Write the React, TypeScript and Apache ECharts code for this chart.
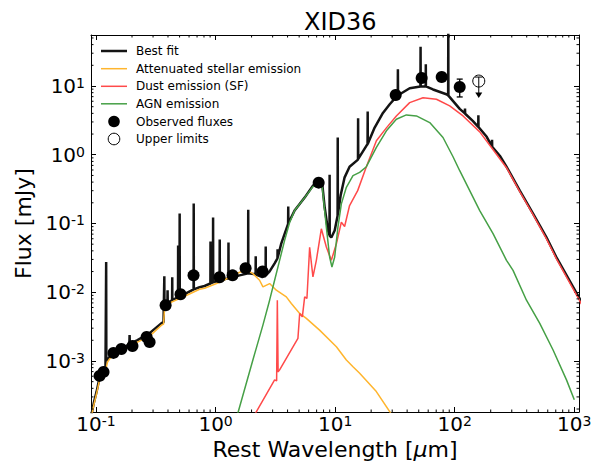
import { useEffect, useRef } from "react";
import * as echarts from "echarts";

const FONT = "DejaVu Sans";

// Wavelength [µm], flux [mJy] pairs for each model component.
const BEST_FIT: [number, number][] = [
  [0.0899, 1.4e-4], [0.0959, 2.46e-4], [0.101, 3.55e-4], [0.107, 5.68e-4], [0.1156, 7.17e-4],
  [0.12, 7.92e-4], [0.1212, 8.0e-4], [0.1216, 0.0275], [0.122, 1.03e-3], [0.1248, 1.034e-3],
  [0.1297, 1.143e-3], [0.14, 1.306e-3], [0.1633, 1.493e-3], [0.19, 1.76e-3], [0.1909, 2.38e-3],
  [0.1918, 1.78e-3], [0.2223, 2.015e-3], [0.2805, 2.544e-3], [0.3532, 3.556e-3], [0.367, 3.675e-3],
  [0.37, 3.7e-3], [0.3727, 0.01706], [0.3735, 6.26e-3], [0.3955, 6.9e-3], [0.3968, 0.01069],
  [0.3981, 6.95e-3], [0.433, 7.7e-3], [0.434, 0.01649], [0.435, 7.75e-3], [0.485, 8.4e-3],
  [0.4861, 0.048], [0.4872, 8.45e-3], [0.4995, 8.8e-3], [0.5007, 0.1396], [0.5019, 8.85e-3],
  [0.5508, 9.36e-3], [0.6548, 0.011], [0.6563, 0.195], [0.6578, 0.011], [0.7345, 0.01181],
  [0.809, 0.01233], [0.9048, 0.0134], [0.9069, 0.0548], [0.909, 0.0135], [0.951, 0.0139],
  [0.9531, 0.1222], [0.9552, 0.014], [1.08, 0.0149], [1.083, 0.0586], [1.086, 0.0149],
  [1.279, 0.0159], [1.282, 0.0531], [1.285, 0.016], [1.588, 0.0176], [1.871, 0.0188],
  [1.875, 0.159], [1.879, 0.0188], [2.161, 0.0182], [2.166, 0.0333], [2.171, 0.018],
  [2.459, 0.01667], [2.62, 0.0172], [2.626, 0.0464], [2.632, 0.0175], [2.831, 0.0201],
  [3.117, 0.0263], [3.292, 0.031], [3.3, 0.042], [3.308, 0.032], [3.546, 0.0513],
  [4.042, 0.099], [4.052, 0.1763], [4.062, 0.101], [4.58, 0.1543], [5.56, 0.238],
  [6.52, 0.3556], [7.28, 0.397], [7.81, 0.3674], [8.17, 0.1722], [8.71, 0.0792],
  [8.97, 0.068], [8.99, 0.513], [9.01, 0.066], [9.29, 0.0627], [9.91, 0.0792],
  [10.48, 0.13], [10.51, 1.782], [10.54, 0.135], [11.11, 0.2545], [12.0, 0.469],
  [13.2, 0.67], [15.52, 0.85], [15.56, 3.4], [15.6, 0.87], [18.24, 1.349],
  [18.66, 1.42], [18.71, 4.25], [18.76, 1.45], [21.4, 2.49], [25.1, 4.06],
  [28.6, 5.43], [33.39, 7.35], [33.48, 17.5], [33.57, 7.42], [34.7, 7.59],
  [42.0, 9.26], [51.66, 9.84], [51.81, 37.2], [51.96, 9.85], [57.15, 9.9],
  [57.3, 20.8], [57.45, 9.9], [65.8, 8.9], [85.1, 7.59], [88.1, 7.3],
  [88.36, 80], [88.6, 7.25], [110.1, 4.65], [121.5, 4.0], [121.9, 4.69],
  [122.3, 3.95], [141.5, 3.11], [157.3, 2.55], [157.7, 3.76], [158.1, 2.53],
  [185.2, 1.824], [204.6, 1.32], [205.2, 1.65], [205.8, 1.31], [238.2, 0.967],
  [271, 0.67], [350, 0.3006], [452, 0.1396], [585, 0.0627], [709, 0.0321],
  [1091, 8.47e-3], [1200, 6.3e-3],
];

const STELLAR: [number, number][] = [
  [0.0899, 1.31e-4], [0.0959, 2.3e-4], [0.101, 3.33e-4], [0.107, 5.31e-4], [0.1156, 6.7e-4],
  [0.12, 7.17e-4], [0.1248, 9.67e-4], [0.1297, 1.069e-3], [0.14, 1.222e-3], [0.1633, 1.396e-3],
  [0.2223, 1.884e-3], [0.2805, 2.3e-3], [0.3532, 3.32e-3], [0.367, 3.44e-3], [0.374, 5.67e-3],
  [0.396, 6.48e-3], [0.4285, 7.17e-3], [0.5508, 8.75e-3], [0.7345, 0.01105], [0.809, 0.01142],
  [1.08, 0.01395], [1.588, 0.0195], [1.853, 0.0208], [2.052, 0.01866], [2.333, 0.01492],
  [2.489, 0.01194], [2.831, 0.01336], [3.221, 0.01069], [3.905, 8.55e-3], [4.3, 6.85e-3],
  [5.05, 4.91e-3], [5.74, 4.16e-3], [7.41, 2.81e-3], [10.24, 1.61e-3], [12.41, 1.034e-3],
  [14.1, 8.26e-4], [16.03, 6.64e-4], [22.1, 3.59e-4], [29.1, 1.75e-4], [34.7, 1.18e-4],
];

const DUST_SF: [number, number][] = [
  [2.121, 1.65e-4], [3.117, 5.31e-4], [3.24, 5.13e-4], [3.284, 7.66e-3], [3.334, 6.93e-4],
  [3.432, 7.41e-4], [4.883, 2.13e-3], [5.05, 4.91e-3], [5.316, 4.38e-3], [5.56, 8.55e-3],
  [5.808, 8.11e-3], [6.119, 0.0449], [6.52, 0.01667], [6.963, 0.0291], [7.665, 0.0838],
  [8.44, 0.0454], [9.29, 0.0291], [10.24, 0.0508], [11.27, 0.1045], [12.0, 0.0905],
  [13.2, 0.1824], [15.43, 0.3006], [18.24, 0.67], [22.13, 1.596], [26.83, 2.46],
  [32.5, 3.67], [42.0, 5.73], [54.3, 6.76], [70.3, 6.41], [90.8, 5.13],
  [117.4, 3.67], [161.9, 2.153], [208, 1.202], [271, 0.648], [350, 0.291],
  [452, 0.135], [585, 0.0596], [709, 0.0306], [1091, 7.93e-3], [1635, 2.23e-3],
];

const AGN: [number, number][] = [
  [1.31, 6.07e-5], [1.537, 1.75e-4], [2.051, 1.034e-3], [2.488, 3.32e-3], [2.831, 7.66e-3],
  [3.117, 0.01492], [3.432, 0.0291], [3.779, 0.0568], [4.161, 0.1034], [4.58, 0.1543],
  [5.56, 0.238], [6.52, 0.3436], [7.28, 0.38], [7.81, 0.3327], [8.44, 0.0883],
  [8.99, 0.0325], [9.4, 0.0233], [9.91, 0.0325], [10.55, 0.0883], [11.27, 0.1929],
  [12.41, 0.336], [14.1, 0.4966], [16.03, 0.554], [18.24, 0.67], [22.13, 1.276],
  [26.83, 2.228], [32.5, 3.289], [39.4, 3.8], [47.8, 3.67], [61.8, 2.94],
  [79.8, 1.782], [96.8, 0.935], [110.1, 0.586], [137.4, 0.272], [161.9, 0.1543],
  [209.2, 0.071], [271, 0.0291], [307.5, 0.0208], [398.1, 7.66e-3], [514.3, 3.52e-3],
  [664.6, 1.443e-3], [860.6, 5.31e-4], [1000, 2.72e-4],
];

// Photometry
const OBS_WAVE = [
  0.107, 0.1156, 0.14, 0.163, 0.2018, 0.265, 0.2805, 0.382, 0.509, 0.654,
  1.079, 1.387, 1.782, 2.473, 7.28, 32.1, 52.9, 77.8, 110.1,
];
const OBS_FLUX = [
  6.07e-4, 6.93e-4, 1.31e-3, 1.49e-3, 1.65e-3, 2.23e-3, 1.88e-3, 6.48e-3, 9.35e-3, 0.0176,
  0.0165, 0.0176, 0.0223, 0.0201, 0.393, 7.41, 13.06, 13.5, 9.68,
];
const ERR_WAVE = [110.1];
const ERR_LOW = [6.93];
const ERR_HIGH = [12.6];
const ULIM_WAVE = [158.9];
const ULIM_FLUX = [11.8];

const LEGEND_LABELS = [
  "Best fit",
  "Attenuated stellar emission",
  "Dust emission (SF)",
  "AGN emission",
  "Observed fluxes",
  "Upper limits",
];

const COLORS = {
  best: "#141414",
  stellar: "#FFB52E",
  dust: "#FF4A4A",
  agn: "#46A046",
};

const X_MIN = 0.0908;
const X_MAX = 1095;
const Y_MIN = 1.81e-4;
const Y_MAX = 55.2;
const X_DECADES = [-2, -1, 0, 1, 2, 3];
const Y_DECADES = [-4, -3, -2, -1, 0, 1];
const MINOR_STEPS = [2, 3, 4, 5, 6, 7, 8, 9];

function minorValues(decades: number[], lo: number, hi: number): number[] {
  const out: number[] = [];
  decades.forEach((d) => {
    MINOR_STEPS.forEach((m) => {
      const v = m * Math.pow(10, d);
      if (v > lo && v < hi) out.push(v);
    });
  });
  return out;
}

function powLabel(v: number): string {
  const e = Math.log10(v);
  const r = Math.round(e);
  if (Math.abs(e - r) > 1e-6) return "";
  return `{b|10}{e|${r}}`;
}

const tickRich = {
  b: { fontSize: 20, fontFamily: FONT, color: "#000", verticalAlign: "bottom", lineHeight: 20 },
  e: { fontSize: 14, fontFamily: FONT, color: "#000", verticalAlign: "top", lineHeight: 14 },
};

export default function App() {
  const ref = useRef<HTMLDivElement>(null);

  useEffect(() => {
    if (!ref.current) return;
    const chart = echarts.init(ref.current, undefined, { renderer: "svg" });

    const xMinor = minorValues(X_DECADES, X_MIN, X_MAX);
    const yMinor = minorValues(Y_DECADES, Y_MIN, Y_MAX);

    const frameAxis = {
      axisLine: { show: true, onZero: false, lineStyle: { color: "#000", width: 1 } },
      axisTick: { show: true, inside: true, length: 5, lineStyle: { color: "#000", width: 1 } },
      splitLine: { show: false },
      minorTick: { show: false },
    };

    const legendRows = [51, 68.7, 86.3, 103.8, 121.5, 139];
    const legendLines = [
      { color: COLORS.best, width: 2.5 },
      { color: COLORS.stellar, width: 1.5 },
      { color: COLORS.dust, width: 1.5 },
      { color: COLORS.agn, width: 1.5 },
    ];
    const legendGraphics: any[] = [];
    legendLines.forEach((l, i) => {
      legendGraphics.push({
        type: "line",
        shape: { x1: 101, y1: legendRows[i], x2: 127, y2: legendRows[i] },
        style: { stroke: l.color, lineWidth: l.width },
        z: 10,
      });
    });
    legendGraphics.push({
      type: "circle",
      shape: { cx: 114, cy: legendRows[4], r: 5.8 },
      style: { fill: "#000" },
      z: 10,
    });
    legendGraphics.push({
      type: "circle",
      shape: { cx: 114, cy: legendRows[5], r: 5.8 },
      style: { fill: "none", stroke: "#000", lineWidth: 1 },
      z: 10,
    });
    LEGEND_LABELS.forEach((t, i) => {
      legendGraphics.push({
        type: "text",
        x: 136,
        y: legendRows[i],
        style: {
          text: t,
          fontSize: 12,
          fontFamily: FONT,
          fill: "#000",
          verticalAlign: "middle",
          align: "left",
        },
        z: 10,
      });
    });

    const option: any = {
      animation: false,
      backgroundColor: "#fff",
      textStyle: { fontFamily: FONT },
      title: {
        text: "XID36",
        left: 299,
        top: 5,
        textStyle: { fontSize: 24, fontWeight: "normal", fontFamily: FONT, color: "#000" },
      },
      grid: { left: 91, right: 16, top: 35, bottom: 56, containLabel: false },
      xAxis: [
        {
          type: "log",
          logBase: 10,
          min: X_MIN,
          max: X_MAX,
          position: "bottom",
          ...frameAxis,
          axisLabel: {
            show: true,
            interval: 0,
            margin: 2,
            formatter: powLabel,
            rich: tickRich,
          },
          name: "Rest Wavelength [{i|μ}m]",
          nameLocation: "middle",
          nameGap: 25,
          nameTextStyle: {
            fontSize: 22,
            fontFamily: FONT,
            color: "#000",
            rich: { i: { fontSize: 22, fontFamily: FONT, fontStyle: "italic", color: "#000" } },
          },
        },
        {
          type: "log",
          logBase: 10,
          min: X_MIN,
          max: X_MAX,
          position: "top",
          ...frameAxis,
          axisLabel: { show: false },
        },
      ],
      yAxis: [
        {
          type: "log",
          logBase: 10,
          min: Y_MIN,
          max: Y_MAX,
          position: "left",
          ...frameAxis,
          axisLabel: {
            show: true,
            interval: 0,
            margin: 6,
            formatter: powLabel,
            rich: tickRich,
          },
          name: "Flux [mJy]",
          nameLocation: "middle",
          nameGap: 50,
          nameTextStyle: { fontSize: 22, fontFamily: FONT, color: "#000" },
        },
        {
          type: "log",
          logBase: 10,
          min: Y_MIN,
          max: Y_MAX,
          position: "right",
          ...frameAxis,
          axisLabel: { show: false },
        },
      ],
      graphic: legendGraphics,
      series: [
        {
          name: "Best fit",
          type: "line",
          data: BEST_FIT,
          showSymbol: false,
          symbol: "none",
          clip: true,
          silent: true,
          lineStyle: { color: COLORS.best, width: 2.5 },
        },
        {
          name: "Attenuated stellar emission",
          type: "line",
          data: STELLAR,
          showSymbol: false,
          symbol: "none",
          clip: true,
          silent: true,
          lineStyle: { color: COLORS.stellar, width: 1.5 },
        },
        {
          name: "Dust emission (SF)",
          type: "line",
          data: DUST_SF,
          showSymbol: false,
          symbol: "none",
          clip: true,
          silent: true,
          lineStyle: { color: COLORS.dust, width: 1.5 },
        },
        {
          name: "AGN emission",
          type: "line",
          data: AGN,
          showSymbol: false,
          symbol: "none",
          clip: true,
          silent: true,
          lineStyle: { color: COLORS.agn, width: 1.5 },
        },
        {
          name: "Flux errors",
          type: "custom",
          silent: true,
          data: ERR_WAVE.map((w, i) => [w, ERR_LOW[i], ERR_HIGH[i]]),
          encode: { x: 0, y: [1, 2] },
          renderItem: (_p: any, api: any) => {
            const lo = api.coord([api.value(0), api.value(1)]);
            const hi = api.coord([api.value(0), api.value(2)]);
            const st = { stroke: "#000", lineWidth: 1.3 };
            return {
              type: "group",
              children: [
                { type: "line", shape: { x1: lo[0], y1: lo[1], x2: hi[0], y2: hi[1] }, style: st },
                { type: "line", shape: { x1: lo[0] - 3, y1: lo[1], x2: lo[0] + 3, y2: lo[1] }, style: st },
                { type: "line", shape: { x1: hi[0] - 3, y1: hi[1], x2: hi[0] + 3, y2: hi[1] }, style: st },
              ],
            };
          },
          z: 3,
        },
        {
          name: "Observed fluxes",
          type: "scatter",
          data: OBS_WAVE.map((w, i) => [w, OBS_FLUX[i]]),
          symbol: "circle",
          symbolSize: 12,
          itemStyle: { color: "#000", opacity: 1 },
          silent: true,
          z: 4,
        },
        {
          name: "Upper limits",
          type: "custom",
          silent: true,
          data: ULIM_WAVE.map((w, i) => [w, ULIM_FLUX[i]]),
          encode: { x: 0, y: 1 },
          renderItem: (_p: any, api: any) => {
            const c = api.coord([api.value(0), api.value(1)]);
            const st = { stroke: "#000", lineWidth: 1 };
            return {
              type: "group",
              children: [
                { type: "circle", shape: { cx: c[0], cy: c[1], r: 6 }, style: { fill: "none", stroke: "#000", lineWidth: 1 } },
                { type: "line", shape: { x1: c[0] - 4, y1: c[1] - 4, x2: c[0] + 4, y2: c[1] - 4 }, style: st },
                { type: "line", shape: { x1: c[0], y1: c[1] - 4, x2: c[0], y2: c[1] + 12 }, style: st },
                {
                  type: "polygon",
                  shape: { points: [[c[0] - 3.5, c[1] + 11.5], [c[0] + 3.5, c[1] + 11.5], [c[0], c[1] + 17]] },
                  style: { fill: "#000" },
                },
              ],
            };
          },
          z: 4,
        },
        {
          name: "x minor ticks",
          type: "custom",
          silent: true,
          data: xMinor.map((v) => [v, 1]),
          encode: { x: 0, y: 1 },
          renderItem: (params: any, api: any) => {
            const cs = params.coordSys;
            const px = api.coord([api.value(0), 1])[0];
            const b = cs.y + cs.height;
            const t = cs.y;
            const st = { stroke: "#000", lineWidth: 1 };
            return {
              type: "group",
              children: [
                { type: "line", shape: { x1: px, y1: b, x2: px, y2: b - 2.5 }, style: st },
                { type: "line", shape: { x1: px, y1: t, x2: px, y2: t + 2.5 }, style: st },
              ],
            };
          },
          z: 5,
        },
        {
          name: "y minor ticks",
          type: "custom",
          silent: true,
          data: yMinor.map((v) => [1, v]),
          encode: { x: 0, y: 1 },
          renderItem: (params: any, api: any) => {
            const cs = params.coordSys;
            const py = api.coord([1, api.value(1)])[1];
            const l = cs.x;
            const r = cs.x + cs.width;
            const st = { stroke: "#000", lineWidth: 1 };
            return {
              type: "group",
              children: [
                { type: "line", shape: { x1: l, y1: py, x2: l + 2.5, y2: py }, style: st },
                { type: "line", shape: { x1: r, y1: py, x2: r - 2.5, y2: py }, style: st },
              ],
            };
          },
          z: 5,
        },
      ],
    };

    chart.setOption(option);
    return () => {
      chart.dispose();
    };
  }, []);

  return (
    <div
      ref={ref}
      style={{ position: "absolute", left: 0, top: 0, width: 595, height: 468, background: "#fff" }}
    />
  );
}
